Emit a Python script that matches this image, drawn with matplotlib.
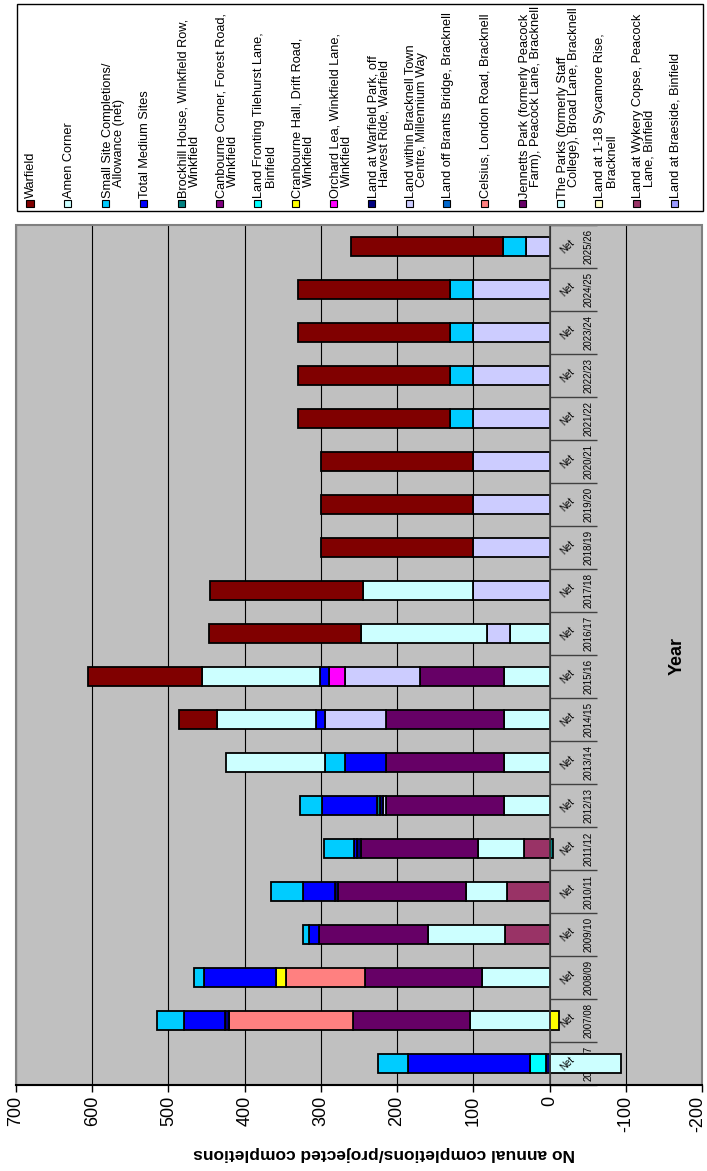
import numpy as np
import matplotlib
matplotlib.use("Agg")
import matplotlib.pyplot as plt
from matplotlib.patches import Rectangle
from matplotlib.transforms import ScaledTranslation

plt.rcParams['font.family'] = ['Liberation Sans', 'DejaVu Sans']

years = ["2006/07", "2007/08", "2008/09", "2009/10", "2010/11", "2011/12", "2012/13",
         "2013/14", "2014/15", "2015/16", "2016/17", "2017/18", "2018/19", "2019/20",
         "2020/21", "2021/22", "2022/23", "2023/24", "2024/25", "2025/26"]

# legend order (top of stack first); '\n' marks the legend wrap point
series_names = [
    "Warfield",
    "Amen Corner",
    "Small Site Completions/\nAllowance (net)",
    "Total Medium Sites",
    "Brockhill House, Winkfield Row,\nWinkfield",
    "Canbourne Corner, Forest Road,\nWinkfield",
    "Land Fronting Tilehurst Lane,\nBinfield",
    "Cranbourne Hall, Drift Road,\nWinkfield",
    "Orchard Lea, Winkfield Lane,\nWinkfield",
    "Land at Warfield Park, off\nHarvest Ride, Warfield",
    "Land within Bracknell Town\nCentre, Millennium Way",
    "Land off Brants Bridge, Bracknell",
    "Celsius, London Road, Bracknell",
    "Jennetts Park (formerly Peacock\nFarm), Peacock Lane, Bracknell",
    "The Parks (formerly Staff\nCollege), Broad Lane, Bracknell",
    "Land at 1-18 Sycamore Rise,\nBracknell",
    "Land at Wykery Copse, Peacock\nLane, Binfield",
    "Land at Braeside, Binfield",
]
series_colors = ["#800000", "#CCFFFF", "#00CCFF", "#0000FF", "#008080", "#800080",
                 "#00FFFF", "#FFFF00", "#FF00FF", "#000080", "#CCCCFF", "#0066CC",
                 "#FF8080", "#660066", "#CCFFFF", "#FFFFCC", "#993366", "#9999FF"]

warfield      = [0, 0, 0, 0, 0, 0, 0, 0, 50, 150, 200, 200, 200, 200, 200, 200, 200, 200, 200, 200]
amen_corner   = [0, 0, 0, 0, 0, 0, 0, 130, 130, 155, 165, 145, 0, 0, 0, 0, 0, 0, 0, 0]
small_sites   = [39, 35, 13, 8, 41, 40, 30, 26, 0, 0, 0, 0, 0, 0, 0, 30, 30, 30, 30, 30]
medium_sites  = [160, 54, 95, 12, 42, 4, 71, 53, 11, 11, 0, 0, 0, 0, 0, 0, 0, 0, 0, 0]
brockhill     = [0, 0, 0, 0, 0, -4, 5, 0, 0, 0, 0, 0, 0, 0, 0, 0, 0, 0, 0, 0]
canbourne     = [0] * 20
tilehurst     = [21, 0, 0, 0, 0, 0, 0, 0, 0, 0, 0, 0, 0, 0, 0, 0, 0, 0, 0, 0]
cranbourne    = [0, -12, 13, 0, 0, 0, 0, 0, 0, 0, 0, 0, 0, 0, 0, 0, 0, 0, 0, 0]
orchard_lea   = [0, 0, 0, 0, 0, 0, 0, 0, 0, 22, 0, 0, 0, 0, 0, 0, 0, 0, 0, 0]
warfield_park = [5, 5, 0, 0, 4, 4, 4, 0, 0, 0, 0, 0, 0, 0, 0, 0, 0, 0, 0, 0]
town_centre   = [0, 0, 0, 0, 0, 0, 3, 0, 80, 98, 30, 100, 100, 100, 100, 100, 100, 100, 100, 31]
brants_bridge = [0] * 20
celsius       = [0, 163, 104, 0, 0, 0, 0, 0, 0, 0, 0, 0, 0, 0, 0, 0, 0, 0, 0, 0]
jennetts_park = [0, 154, 154, 144, 168, 154, 155, 155, 155, 110, 0, 0, 0, 0, 0, 0, 0, 0, 0, 0]
the_parks     = [-94, 104, 88, 101, 54, 60, 60, 60, 60, 60, 52, 0, 0, 0, 0, 0, 0, 0, 0, 0]
sycamore      = [0] * 20
wykery_copse  = [0, 0, 0, 58, 56, 34, 0, 0, 0, 0, 0, 0, 0, 0, 0, 0, 0, 0, 0, 0]
braeside      = [0] * 20

series_values = [warfield, amen_corner, small_sites, medium_sites, brockhill, canbourne,
                 tilehurst, cranbourne, orchard_lea, warfield_park, town_centre,
                 brants_bridge, celsius, jennetts_park, the_parks, sycamore,
                 wykery_copse, braeside]

value_ticks = [700, 600, 500, 400, 300, 200, 100, 0, -100, -200]
category_sub = "Net"
x_title = "Year"
y_title = "No annual completions/projected completions"

W, H = 707, 1171
fig = plt.figure(figsize=(W / 100, H / 100), dpi=100)
fig.patch.set_facecolor("white")


def fx(px):
    return px / W


def fy(py):
    return 1 - py / H


ax = fig.add_axes([fx(16), fy(1085), 686 / W, 860 / H])
ax.set_facecolor("#C0C0C0")

ypos = np.arange(len(years))
pos_base = np.zeros(len(years))
neg_base = np.zeros(len(years))
# stack from the bottom series (last in legend) upward
for vals, col in zip(series_values[::-1], series_colors[::-1]):
    v = np.array(vals, dtype=float)
    left = np.where(v >= 0, pos_base, neg_base)
    m = v != 0
    if m.any():
        ax.barh(ypos[m], v[m], left=left[m], height=0.44, color=col,
                edgecolor="black", linewidth=1.3, zorder=3)
    pos_base += np.where(v > 0, v, 0)
    neg_base += np.where(v < 0, v, 0)

ax.set_xlim(700, -200)
ax.set_ylim(-0.5, len(years) - 0.5)
ax.set_xticks(value_ticks)
ax.set_xticklabels([str(t) for t in value_ticks], rotation=90, fontsize=13)
ax.tick_params(axis="x", direction="out", length=5, width=1, pad=3, colors="black")
last = ax.get_xticklabels()[-1]
last.set_horizontalalignment("right")
last.set_transform(last.get_transform() + ScaledTranslation(4 / 100, 0, fig.dpi_scale_trans))
ax.grid(axis="x", color="black", linewidth=0.8, zorder=1)
ax.set_axisbelow(True)

# category axis at value 0
ax.spines["right"].set_position(("data", 0))
ax.spines["right"].set_color("#404040")
ax.spines["right"].set_linewidth(1.2)
ax.spines["right"].set_zorder(4)
ax.spines["left"].set_visible(False)
ax.spines["top"].set_visible(False)
ax.spines["bottom"].set_color("black")
ax.spines["bottom"].set_linewidth(1.5)
ax.spines["bottom"].set_zorder(6)
ax.yaxis.set_ticks_position("right")
ax.set_yticks(ypos)
ax.set_yticklabels(years, rotation=90, fontsize=7, va="center", ha="left")
ax.set_yticks(np.arange(-0.5, len(years), 1.0), minor=True)
ax.tick_params(axis="y", which="major", length=0, pad=24.5, colors="black")
ax.tick_params(axis="y", which="minor", length=34, width=1, color="#404040",
               direction="out")
for i in ypos:
    ax.text(-23, i, category_sub, rotation=45, fontsize=7, ha="center", va="center",
            zorder=5)

ax.add_patch(Rectangle((0, 0), 1, 1, transform=ax.transAxes, fill=False,
                       edgecolor="#808080", linewidth=1.5, zorder=5, clip_on=False))

fig.text(fx(677), fy(656), x_title, rotation=90, fontsize=13, fontweight="bold",
         ha="center", va="center")
fig.text(fx(384), fy(1153), y_title, rotation=180, fontsize=12.5, fontweight="bold",
         ha="center", va="center")

# legend box
fig.patches.append(Rectangle((fx(17), fy(211)), 686 / W, 207 / H,
                             transform=fig.transFigure, facecolor="white",
                             edgecolor="black", linewidth=1))
for i, (name, col) in enumerate(zip(series_names, series_colors)):
    xm = 30 + 37.9 * i
    fig.patches.append(Rectangle((fx(xm - 3.5), fy(207)), 7 / W, 7 / H,
                                 transform=fig.transFigure, facecolor=col,
                                 edgecolor="black", linewidth=0.8))
    lines = name.split("\n")
    if len(lines) == 1:
        fig.text(fx(xm + 1), fy(198), lines[0], rotation=90, fontsize=9.2,
                 ha="center", va="bottom")
    else:
        fig.text(fx(xm + 2), fy(198), lines[0], rotation=90, fontsize=9.2,
                 ha="center", va="bottom")
        fig.text(fx(xm + 13.5), fy(187), lines[1], rotation=90, fontsize=9.2,
                 ha="center", va="bottom")

fig.savefig("out.png", dpi=100)
